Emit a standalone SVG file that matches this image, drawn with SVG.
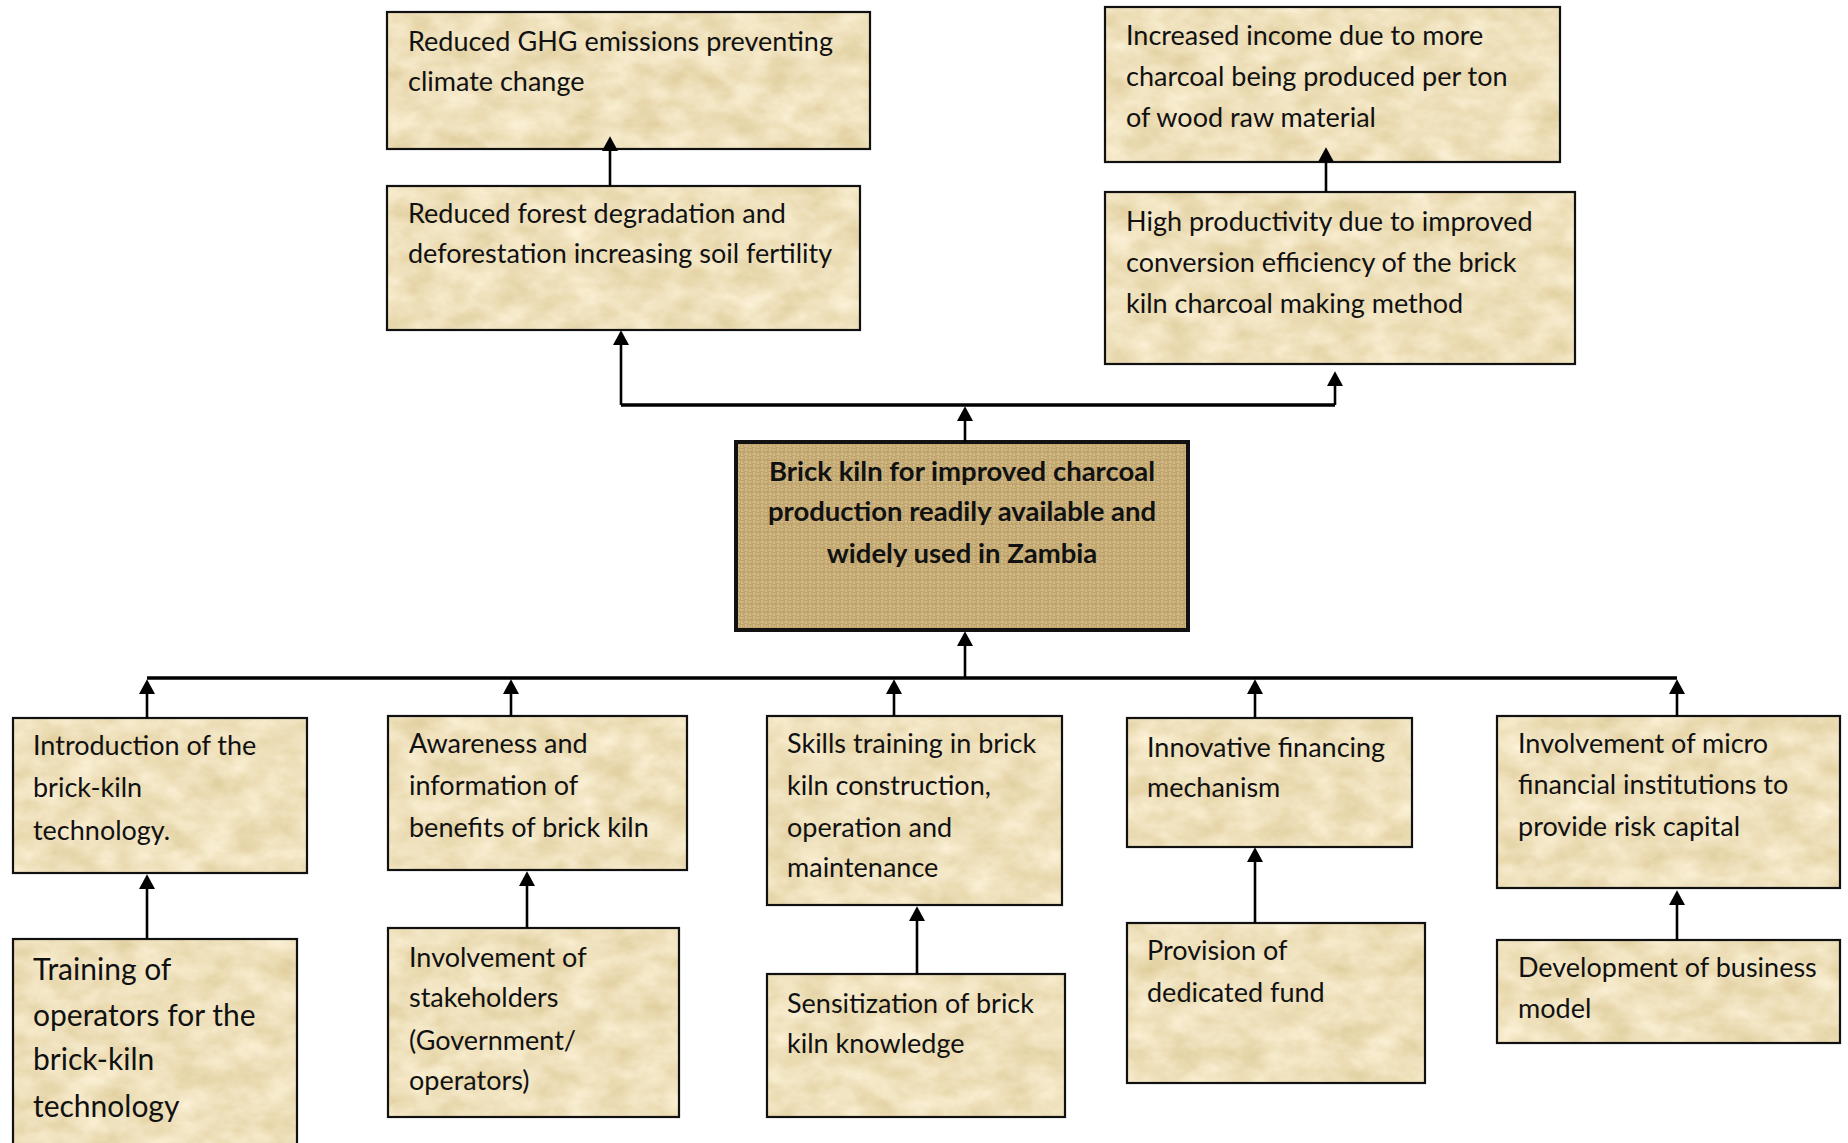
<svg xmlns="http://www.w3.org/2000/svg" width="1848" height="1143" viewBox="0 0 1848 1143">
  <defs>
    <!-- mottled parchment fill for the ordinary boxes -->
    <filter id="parchment" x="0" y="0" width="100%" height="100%" color-interpolation-filters="sRGB">
      <feTurbulence type="fractalNoise" baseFrequency="0.03 0.045" numOctaves="4" seed="7" result="noise"/>
      <feColorMatrix in="noise" type="matrix" values="0.13 0 0 0 0.87  0.17 0 0 0 0.795  0.28 0 0 0 0.595  0 0 0 0 1" result="tint"/>
      <feComposite in="tint" in2="SourceGraphic" operator="in"/>
    </filter>
    <!-- basket-weave burlap for the central box -->
    <pattern id="burlap" width="8" height="8" patternUnits="userSpaceOnUse">
      <rect width="8" height="8" fill="#a88a52"/>
      <rect x="0.4" y="0.4" width="3.2" height="1.3" fill="#e9d5a3"/>
      <rect x="0.4" y="2.4" width="3.2" height="1.3" fill="#dfc893"/>
      <rect x="4.4" y="0.4" width="1.3" height="3.2" fill="#e5cf9c"/>
      <rect x="6.4" y="0.4" width="1.3" height="3.2" fill="#dbc38d"/>
      <rect x="0.4" y="4.4" width="1.3" height="3.2" fill="#e1ca96"/>
      <rect x="2.4" y="4.4" width="1.3" height="3.2" fill="#e9d5a3"/>
      <rect x="4.4" y="4.4" width="3.2" height="1.3" fill="#dcc48e"/>
      <rect x="4.4" y="6.4" width="3.2" height="1.3" fill="#e7d19e"/>
    </pattern>
    <marker id="arrow" markerUnits="userSpaceOnUse" markerWidth="16" markerHeight="16" viewBox="0 0 14 15" refX="1" refY="7.5" orient="auto">
      <path d="M0,0 L14,7.5 L0,15 z" fill="#000"/>
    </marker>
    <style>
      .bg { fill: #e9d8ae; filter: url(#parchment); }
      .frame { fill: none; stroke: #111; stroke-width: 2.2; }
      .core { fill: url(#burlap); stroke: #111; stroke-width: 4; }
      .t { font-family: Lato, "Open Sans", "Liberation Sans", sans-serif; font-size: 27px; fill: #111; }
      .big { font-size: 30px; }
      .b { font-weight: bold; text-anchor: middle; font-size: 27.5px; }
      .bus { fill: none; stroke: #000; stroke-width: 3.6; }
      .link { fill: none; stroke: #000; stroke-width: 2.6; marker-end: url(#arrow); }
    </style>
  </defs>

  <rect width="1848" height="1143" fill="#fff"/>

  <!-- outcomes -->
  <g id="n-ghg">
    <rect class="bg" x="387" y="12" width="483" height="137"/>
    <rect class="frame" x="387" y="12" width="483" height="137"/>
    <text class="t"><tspan x="408" y="51">Reduced GHG emissions preventing</tspan><tspan x="408" y="91">climate change</tspan></text>
  </g>
  <g id="n-forest">
    <rect class="bg" x="387" y="186" width="473" height="144"/>
    <rect class="frame" x="387" y="186" width="473" height="144"/>
    <text class="t"><tspan x="408" y="223">Reduced forest degradation and</tspan><tspan x="408" y="263">deforestation increasing soil fertility</tspan></text>
  </g>
  <g id="n-income">
    <rect class="bg" x="1105" y="7" width="455" height="155"/>
    <rect class="frame" x="1105" y="7" width="455" height="155"/>
    <text class="t"><tspan x="1126" y="45">Increased income due to more</tspan><tspan x="1126" y="86">charcoal being produced per ton</tspan><tspan x="1126" y="127">of wood raw material</tspan></text>
  </g>
  <g id="n-productivity">
    <rect class="bg" x="1105" y="192" width="470" height="172"/>
    <rect class="frame" x="1105" y="192" width="470" height="172"/>
    <text class="t"><tspan x="1126" y="231">High productivity due to improved</tspan><tspan x="1126" y="272">conversion efficiency of the brick</tspan><tspan x="1126" y="313">kiln charcoal making method</tspan></text>
  </g>

  <!-- central goal -->
  <g id="n-goal">
    <rect class="core" x="736" y="442" width="452" height="188"/>
    <text class="t b"><tspan x="962" y="481">Brick kiln for improved charcoal</tspan><tspan x="962" y="521">production readily available and</tspan><tspan x="962" y="563">widely used in Zambia</tspan></text>
  </g>

  <!-- outputs -->
  <g id="n-intro">
    <rect class="bg" x="13" y="718" width="294" height="155"/>
    <rect class="frame" x="13" y="718" width="294" height="155"/>
    <text class="t"><tspan x="33" y="755">Introduction of the</tspan><tspan x="33" y="797">brick-kiln</tspan><tspan x="33" y="840">technology.</tspan></text>
  </g>
  <g id="n-training">
    <rect class="bg" x="13" y="939" width="284" height="215"/>
    <rect class="frame" x="13" y="939" width="284" height="215"/>
    <text class="t big"><tspan x="33" y="980">Training of</tspan><tspan x="33" y="1026">operators for the</tspan><tspan x="33" y="1070">brick-kiln</tspan><tspan x="33" y="1117">technology</tspan></text>
  </g>
  <g id="n-awareness">
    <rect class="bg" x="388" y="716" width="299" height="154"/>
    <rect class="frame" x="388" y="716" width="299" height="154"/>
    <text class="t"><tspan x="409" y="753">Awareness and</tspan><tspan x="409" y="795">information of</tspan><tspan x="409" y="837">benefits of brick kiln</tspan></text>
  </g>
  <g id="n-stakeholders">
    <rect class="bg" x="388" y="928" width="291" height="189"/>
    <rect class="frame" x="388" y="928" width="291" height="189"/>
    <text class="t"><tspan x="409" y="967">Involvement of</tspan><tspan x="409" y="1007">stakeholders</tspan><tspan x="409" y="1050">(Government/</tspan><tspan x="409" y="1090">operators)</tspan></text>
  </g>
  <g id="n-skills">
    <rect class="bg" x="767" y="716" width="295" height="189"/>
    <rect class="frame" x="767" y="716" width="295" height="189"/>
    <text class="t"><tspan x="787" y="753">Skills training in brick</tspan><tspan x="787" y="795">kiln construction,</tspan><tspan x="787" y="837">operation and</tspan><tspan x="787" y="877">maintenance</tspan></text>
  </g>
  <g id="n-sensitization">
    <rect class="bg" x="767" y="974" width="298" height="143"/>
    <rect class="frame" x="767" y="974" width="298" height="143"/>
    <text class="t"><tspan x="787" y="1013">Sensitization of brick</tspan><tspan x="787" y="1053">kiln knowledge</tspan></text>
  </g>
  <g id="n-financing">
    <rect class="bg" x="1127" y="718" width="285" height="129"/>
    <rect class="frame" x="1127" y="718" width="285" height="129"/>
    <text class="t"><tspan x="1147" y="757">Innovative financing</tspan><tspan x="1147" y="797">mechanism</tspan></text>
  </g>
  <g id="n-fund">
    <rect class="bg" x="1127" y="923" width="298" height="160"/>
    <rect class="frame" x="1127" y="923" width="298" height="160"/>
    <text class="t"><tspan x="1147" y="960">Provision of</tspan><tspan x="1147" y="1002">dedicated fund</tspan></text>
  </g>
  <g id="n-microfinance">
    <rect class="bg" x="1497" y="716" width="343" height="172"/>
    <rect class="frame" x="1497" y="716" width="343" height="172"/>
    <text class="t"><tspan x="1518" y="753">Involvement of micro</tspan><tspan x="1518" y="794">financial institutions to</tspan><tspan x="1518" y="836">provide risk capital</tspan></text>
  </g>
  <g id="n-business">
    <rect class="bg" x="1497" y="940" width="343" height="103"/>
    <rect class="frame" x="1497" y="940" width="343" height="103"/>
    <text class="t"><tspan x="1518" y="977">Development of business</tspan><tspan x="1518" y="1018">model</tspan></text>
  </g>

  <!-- connectors -->
  <g id="connectors">
    <!-- horizontal bus lines -->
    <line class="bus" x1="621" y1="405" x2="1335" y2="405"/>
    <line class="bus" x1="147" y1="678" x2="1677" y2="678"/>

    <!-- upper tree -->
    <line class="link" x1="610" y1="186" x2="610" y2="150"/>
    <line class="link" x1="1326" y1="192" x2="1326" y2="161"/>
    <line class="link" x1="965" y1="442" x2="965" y2="420"/>
    <path class="link" d="M 621 405 L 621 344"/>
    <path class="link" d="M 1335 405 L 1335 385"/>

    <!-- lower tree -->
    <line class="link" x1="965" y1="678" x2="965" y2="645"/>
    <line class="link" x1="147" y1="718" x2="147" y2="693"/>
    <line class="link" x1="511" y1="716" x2="511" y2="693"/>
    <line class="link" x1="894" y1="716" x2="894" y2="693"/>
    <line class="link" x1="1255" y1="718" x2="1255" y2="693"/>
    <line class="link" x1="1677" y1="716" x2="1677" y2="693"/>

    <line class="link" x1="147" y1="939" x2="147" y2="888"/>
    <line class="link" x1="527" y1="928" x2="527" y2="885"/>
    <line class="link" x1="917" y1="974" x2="917" y2="920"/>
    <line class="link" x1="1255" y1="923" x2="1255" y2="861"/>
    <line class="link" x1="1677" y1="940" x2="1677" y2="904"/>
  </g>
</svg>
